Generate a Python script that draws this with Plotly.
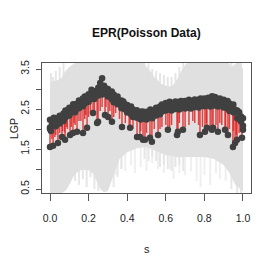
import plotly.graph_objects as go

# ---------------- data ----------------
# grey credible band (upper / lower edges)
band_up_s = [0.00, 0.02, 0.04, 0.06, 0.08, 0.10, 0.12, 0.14, 0.20, 0.30, 0.40, 0.48, 0.50, 0.52, 0.54,
             0.56, 0.58, 0.60, 0.62, 0.64, 0.66, 0.68, 0.70, 0.72, 0.80, 0.92, 0.94, 0.96, 0.98, 1.00]
band_up_v = [3.15, 3.20, 3.22, 3.28, 3.45, 3.55, 3.62, 3.70, 3.70, 3.70, 3.70, 3.70, 3.55, 3.45, 3.30,
             3.20, 3.12, 3.08, 3.06, 3.10, 3.25, 3.45, 3.60, 3.70, 3.70, 3.70, 3.55, 3.62, 3.70, 3.50]
band_lo_s = [0.00, 0.04, 0.08, 0.10, 0.12, 0.14, 0.16, 0.18, 0.20, 0.22, 0.24, 0.26, 0.28, 0.30, 0.32,
             0.34, 0.36, 0.40, 0.45, 0.50, 0.55, 0.60, 0.65, 0.70, 0.75, 0.80, 0.85, 0.90, 0.93, 0.96, 1.00]
band_lo_v = [0.30, 0.35, 0.45, 0.60, 0.80, 0.92, 0.97, 0.98, 0.97, 0.90, 0.72, 0.50, 0.42, 0.45, 0.70,
             1.00, 1.25, 1.42, 1.52, 1.55, 1.45, 1.35, 1.30, 1.30, 1.30, 1.30, 1.25, 1.10, 0.90, 0.60, 0.45]

# ragged grey streaks (same tone as band) sticking out of its edges
gstreak_s = [0.005, 0.015, 0.03, 0.05, 0.07, 0.13, 0.15, 0.17, 0.19, 0.21, 0.23, 0.25, 0.33, 0.35,
             0.37, 0.49, 0.51, 0.53, 0.55, 0.57, 0.59, 0.61, 0.63, 0.65, 0.67, 0.69, 0.94, 0.97, 0.99]
gstreak_lo = [2.0, 2.0, 2.0, 2.0, 2.0, 0.70, 0.60, 0.75, 0.55, 0.80, 0.50, 0.45, 0.55, 0.80,
              1.00, 1.25, 1.20, 1.30, 1.20, 1.05, 1.10, 1.00, 0.95, 1.05, 1.10, 0.95, 0.50, 0.40, 0.40]
gstreak_hi = [3.40, 3.30, 3.45, 3.55, 3.65, 3.0, 3.0, 3.0, 3.0, 3.0, 3.0, 3.0, 3.0, 3.0,
              3.0, 3.65, 3.65, 3.50, 3.45, 3.40, 3.35, 3.30, 3.30, 3.40, 3.55, 3.65, 3.70, 3.70, 3.70]

# faint lighter streaks below the band
streak_s = [0.34, 0.37, 0.39, 0.42, 0.44, 0.47, 0.50, 0.53, 0.56, 0.59, 0.62, 0.64, 0.67, 0.70,
            0.73, 0.76, 0.78, 0.80, 0.83, 0.86, 0.88, 0.91]
streak_lo = [0.85, 1.00, 0.95, 1.10, 0.90, 1.05, 0.95, 1.15, 1.00, 0.90, 1.00, 0.75, 0.90, 0.85,
             0.95, 0.70, 0.55, 0.85, 0.60, 0.90, 0.75, 0.70]
streak_hi = [2.0] * len(streak_s)

# posterior mean curve (red)
curve_s = [0.00, 0.05, 0.10, 0.15, 0.20, 0.25, 0.28, 0.30, 0.35, 0.40, 0.45, 0.50, 0.55, 0.60,
           0.65, 0.70, 0.75, 0.80, 0.85, 0.90, 0.95, 1.00]
curve_v = [1.98, 2.10, 2.30, 2.47, 2.65, 2.80, 2.88, 2.82, 2.60, 2.40, 2.24, 2.20, 2.30, 2.42,
           2.46, 2.48, 2.50, 2.53, 2.54, 2.50, 2.36, 2.05]

# observations: dense upper band (two rows) on s = 0, 0.01, ..., 1
obs_s = [round(i * 0.01, 2) for i in range(101)]
obs_a = [2.23, 2.20, 2.28, 2.26, 2.26, 2.33, 2.30, 2.39, 2.46, 2.46,
         2.53, 2.51, 2.62, 2.61, 2.63, 2.71, 2.67, 2.76, 2.81, 2.81,
         2.87, 2.85, 2.95, 2.94, 2.95, 3.03, 2.98, 3.05, 3.08, 3.01,
         3.00, 2.91, 2.94, 2.86, 2.80, 2.81, 2.70, 2.71, 2.69, 2.61,
         2.60, 2.52, 2.56, 2.49, 2.44, 2.47, 2.39, 2.43, 2.44, 2.40,
         2.43, 2.40, 2.49, 2.46, 2.46, 2.53, 2.49, 2.56, 2.61, 2.59,
         2.65, 2.61, 2.68, 2.65, 2.63, 2.69, 2.62, 2.68, 2.70, 2.67,
         2.70, 2.66, 2.73, 2.70, 2.68, 2.74, 2.68, 2.73, 2.76, 2.72,
         2.76, 2.71, 2.78, 2.75, 2.73, 2.78, 2.70, 2.75, 2.76, 2.71,
         2.73, 2.66, 2.70, 2.64, 2.59, 2.61, 2.48, 2.46, 2.42, 2.31, 2.27]
obs_b = [2.04, 2.11, 2.09, 2.07, 2.15, 2.14, 2.23, 2.20, 2.29, 2.34,
         2.34, 2.42, 2.43, 2.42, 2.52, 2.52, 2.60, 2.57, 2.64, 2.69,
         2.68, 2.76, 2.76, 2.75, 2.84, 2.84, 2.91, 2.86, 2.91, 2.89,
         2.81, 2.82, 2.75, 2.67, 2.69, 2.62, 2.63, 2.52, 2.52, 2.49,
         2.41, 2.43, 2.37, 2.30, 2.33, 2.28, 2.32, 2.24, 2.27, 2.28,
         2.24, 2.31, 2.30, 2.27, 2.35, 2.34, 2.42, 2.37, 2.44, 2.47,
         2.46, 2.52, 2.49, 2.46, 2.52, 2.50, 2.55, 2.49, 2.53, 2.55,
         2.51, 2.57, 2.54, 2.51, 2.57, 2.55, 2.61, 2.54, 2.59, 2.60,
         2.57, 2.62, 2.59, 2.56, 2.62, 2.59, 2.63, 2.56, 2.59, 2.59,
         2.54, 2.57, 2.51, 2.45, 2.48, 2.42, 2.41, 2.27, 2.25, 2.19, 2.08]
extra_s = [0.26, 0.27, 0.84, 0.00, 0.005, 0.215, 0.855]
extra_v = [3.15, 3.27, 2.82, 2.00, 1.95, 2.98, 2.80]

# low observations, each with a red drop from the curve
low_s = [0.000, 0.016, 0.041, 0.062, 0.078, 0.104, 0.119, 0.140, 0.171, 0.192, 0.223, 0.244, 0.249,
         0.285, 0.301, 0.321, 0.373, 0.415, 0.451, 0.466, 0.482, 0.492, 0.518, 0.528, 0.560, 0.611,
         0.658, 0.663, 0.689, 0.777, 0.803, 0.813, 0.839, 0.845, 0.870, 0.907, 0.922, 0.948, 0.959,
         0.969, 0.995, 1.000]
low_v = [1.55, 1.58, 1.65, 1.80, 1.73, 1.85, 1.90, 1.93, 1.90, 2.03, 2.40, 2.15, 2.18,
         2.35, 2.30, 2.18, 2.05, 2.03, 1.80, 1.80, 1.73, 1.73, 1.78, 1.68, 1.85, 1.98,
         1.85, 1.93, 1.98, 1.85, 1.93, 2.03, 1.98, 2.03, 1.93, 1.98, 1.85, 1.55, 1.65,
         1.73, 1.78, 1.98]
low_top = [1.98, 2.02, 2.08, 2.15, 2.21, 2.31, 2.37, 2.44, 2.55, 2.62, 2.72, 2.78, 2.80,
           2.87, 2.82, 2.73, 2.51, 2.35, 2.24, 2.23, 2.21, 2.21, 2.24, 2.26, 2.32, 2.43,
           2.46, 2.46, 2.48, 2.52, 2.53, 2.53, 2.54, 2.54, 2.53, 2.48, 2.44, 2.37, 2.30,
           2.24, 2.08, 2.05]
# red drops without a visible point
dip_s = [0.01, 0.025, 0.03, 0.05, 0.065, 0.075, 0.085, 0.09, 0.11, 0.125, 0.13, 0.15, 0.16,
         0.18, 0.185, 0.20, 0.21, 0.23, 0.26, 0.27, 0.29, 0.31, 0.33, 0.34, 0.36, 0.39, 0.41,
         0.43, 0.47, 0.50, 0.54, 0.57, 0.58, 0.60, 0.62, 0.63, 0.67, 0.70, 0.72, 0.74, 0.75,
         0.77, 0.79, 0.81, 0.83, 0.86, 0.88, 0.89, 0.91, 0.93, 0.95, 0.965, 0.98]
dip_top = [2.00, 2.04, 2.06, 2.10, 2.16, 2.20, 2.24, 2.27, 2.34, 2.39, 2.40, 2.47, 2.51,
           2.58, 2.60, 2.65, 2.68, 2.74, 2.83, 2.85, 2.86, 2.78, 2.69, 2.65, 2.56, 2.44, 2.37,
           2.30, 2.22, 2.20, 2.28, 2.35, 2.37, 2.42, 2.43, 2.44, 2.47, 2.48, 2.49, 2.50, 2.50,
           2.52, 2.52, 2.53, 2.54, 2.54, 2.52, 2.51, 2.48, 2.42, 2.36, 2.27, 2.17]
dip_bot = [1.75, 1.80, 1.85, 1.90, 1.95, 1.92, 2.05, 2.00, 2.05, 2.15, 2.10, 2.20, 2.20,
           2.25, 2.35, 2.30, 2.40, 2.45, 2.45, 2.55, 2.55, 2.45, 2.30, 2.40, 2.25, 2.15, 2.10,
           2.00, 1.95, 1.90, 2.00, 2.00, 2.05, 2.10, 2.05, 2.10, 2.15, 2.05, 2.10, 2.20, 2.15,
           2.10, 2.05, 2.15, 2.05, 2.10, 2.15, 2.10, 2.05, 2.00, 1.95, 1.85, 1.90]

x_ticks = [0.0, 0.2, 0.4, 0.6, 0.8, 1.0]
x_ticktext = ["0.0", "0.2", "0.4", "0.6", "0.8", "1.0"]
y_ticks = [0.5, 1.0, 1.5, 2.0, 2.5, 3.0, 3.5]
y_ticktext = ["0.5", "", "1.5", "", "2.5", "", "3.5"]

# ---------------- figure ----------------
GREY = "#e0e0e0"
RED = "rgba(226,38,38,0.85)"
DARK = "#404040"


def segs(xs, los, his):
    xx, yy = [], []
    for s, lo, hi in zip(xs, los, his):
        xx += [s, s, None]
        yy += [lo, hi, None]
    return xx, yy


fig = go.Figure()

sx, sy = segs(streak_s, streak_lo, streak_hi)
fig.add_trace(go.Scatter(x=sx, y=sy, mode="lines", line=dict(color="#efefef", width=2),
                         hoverinfo="skip", showlegend=False))
gx, gy = segs(gstreak_s, gstreak_lo, gstreak_hi)
fig.add_trace(go.Scatter(x=gx, y=gy, mode="lines", line=dict(color="#e6e6e6", width=2),
                         hoverinfo="skip", showlegend=False))

fig.add_trace(go.Scatter(x=band_up_s + band_lo_s[::-1], y=band_up_v + band_lo_v[::-1],
                         fill="toself", fillcolor=GREY, mode="lines", line=dict(width=0, color=GREY),
                         hoverinfo="skip", showlegend=False))

# red fitted curve and drops (under the points)
rx1, ry1 = segs(low_s, low_top, low_v)
rx2, ry2 = segs(dip_s, dip_top, dip_bot)
fig.add_trace(go.Scatter(x=rx1 + rx2, y=ry1 + ry2, mode="lines", line=dict(color=RED, width=1.5),
                         hoverinfo="skip", showlegend=False))
fig.add_trace(go.Scatter(x=curve_s, y=curve_v, mode="lines",
                         line=dict(color=RED, width=1.6, shape="spline"),
                         hoverinfo="skip", showlegend=False))

fig.add_trace(go.Scatter(x=obs_s + obs_s + extra_s, y=obs_a + obs_b + extra_v, mode="markers",
                         marker=dict(color=DARK, size=6.5, line=dict(width=0)),
                         hoverinfo="skip", showlegend=False))

fig.add_trace(go.Scatter(x=low_s, y=low_v, mode="markers",
                         marker=dict(color=DARK, size=6.5, line=dict(width=0)),
                         hoverinfo="skip", showlegend=False))

FONT = "Liberation Sans, Arial, sans-serif"

# the page body has an 8px default margin, so the figure is 8px smaller and offsets reduced
fig.update_layout(
    width=265, height=265,
    margin=dict(l=34, r=22, t=55, b=80),
    paper_bgcolor="white", plot_bgcolor="white",
    font=dict(family=FONT, size=10, color="#222"),
    xaxis=dict(range=[-0.0415, 1.0415], tickvals=x_ticks, ticktext=x_ticktext,
               showgrid=False, zeroline=False, showline=True, mirror=True,
               linecolor="#555", linewidth=1, ticks="outside", ticklen=7, tickcolor="#555",
               ticklabelstandoff=8, tickfont=dict(size=10.5)),
    yaxis=dict(range=[0.4, 3.65], tickvals=y_ticks, ticktext=y_ticktext,
               showgrid=False, zeroline=False, showline=True, mirror=True,
               linecolor="#555", linewidth=1, ticks="outside", ticklen=5, tickcolor="#555",
               tickangle=-90, ticklabelstandoff=3, tickfont=dict(size=10.5)),
    annotations=[
        dict(text="<b>EPR(Poisson Data)</b>", xref="paper", yref="paper", x=0.5, y=1.231,
             showarrow=False, font=dict(size=12, family=FONT, color="#111"),
             xanchor="center", yanchor="middle"),
        dict(text="s", xref="paper", yref="paper", x=0.5, y=-0.431,
             showarrow=False, font=dict(size=11, family=FONT), xanchor="center", yanchor="middle"),
        dict(text="LGP", xref="paper", yref="paper", x=-0.134, y=0.5, textangle=-90,
             showarrow=False, font=dict(size=10.5, family=FONT), xanchor="center", yanchor="middle"),
    ],
)

fig.write_html("out.html")
